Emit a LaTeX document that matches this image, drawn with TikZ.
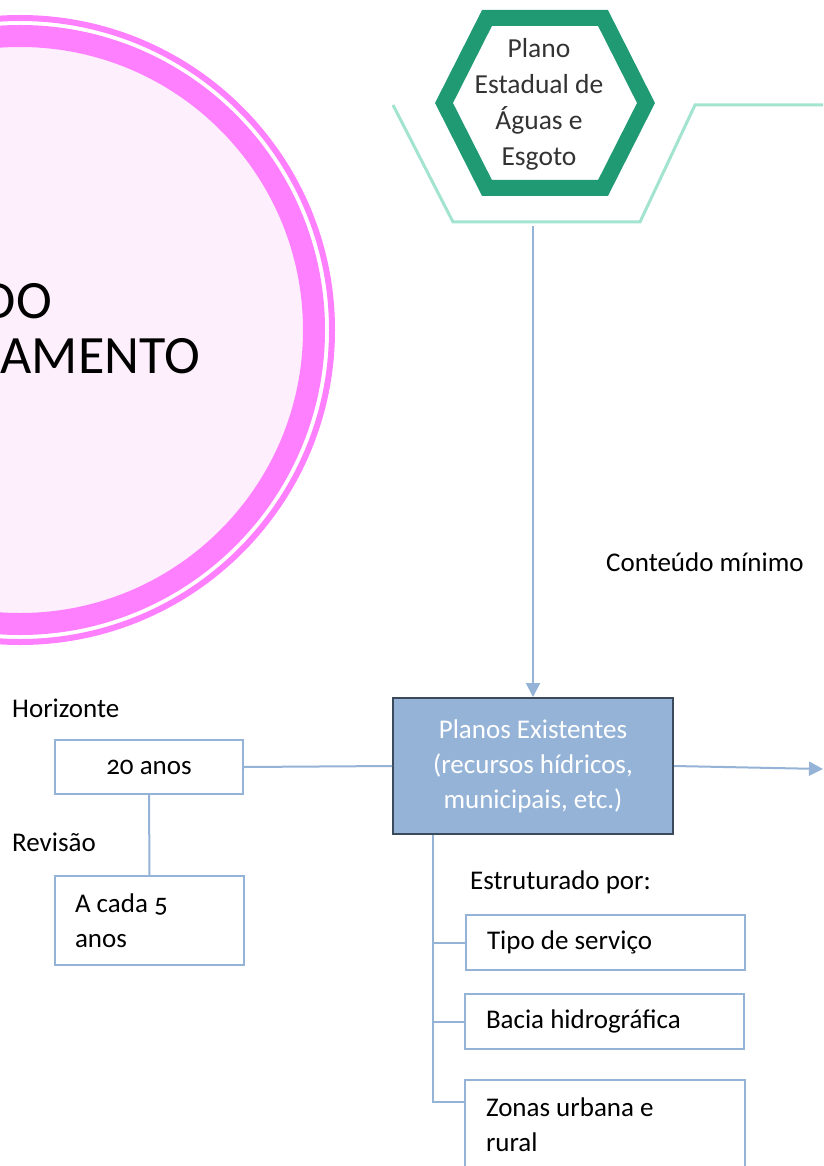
\documentclass[tikz,border=0pt]{standalone}
\usepackage{fontspec}
\setmainfont[Numbers=OldStyle]{Carlito}
\usetikzlibrary{arrows.meta}
\definecolor{pinkring}{HTML}{FF80FF}
\definecolor{pinkfill}{HTML}{FDF0FC}
\definecolor{hexgreen}{HTML}{1F9A72}
\definecolor{mint}{HTML}{A3E4D0}
\definecolor{lblue}{HTML}{95B3D7}
\definecolor{boxedge}{HTML}{3A4A5B}
\begin{document}
\begin{tikzpicture}[x=1pt,y=-1pt,
 conn/.style={draw=lblue,line width=2pt},
 arr/.style={conn,-{Triangle[length=14pt,width=14pt]}},
 txt/.style={font=\fontsize{27}{35}\selectfont},
 wbox/.style={txt,draw=lblue,line width=2pt,fill=white,inner sep=0pt},
 lbl/.style={txt,anchor=west,inner sep=0pt,text=black}
]
\useasboundingbox (0,0) rectangle (823,1166);
\fill[white] (0,0) rectangle (823,1166);
% circle
\fill[pinkfill] (20,330) circle[radius=300];
\draw[pinkring,line width=22pt] (20,330) circle[radius=294];
\draw[pinkring,line width=6pt] (20,330) circle[radius=312];
\node[font=\fontsize{54}{54}\selectfont,anchor=base east,inner sep=0pt] (t1) at (52,318) {DO};
\node[font=\fontsize{54}{54}\selectfont,anchor=base east,inner sep=0pt] (t2) at (200,373) {AMENTO};
% mint bracket
\draw[mint,line width=3pt] (393,105) -- (453,222) -- (640,222) -- (695,105) -- (823,105);
\coordinate (brk) at (533,226);
% hexagon
\draw[hexgreen,line width=16pt,line join=miter,fill=white] (444,103) -- (487,18) -- (603,18) -- (646,103) -- (603,188) -- (487,188) -- cycle;
\node[txt,font=\fontsize{27.5}{36}\selectfont,align=center,text=black!80,inner sep=0pt] (hex) at (539,104) {Plano\\Estadual de\\Águas e\\Esgoto};
% main box
\node[txt,fill=lblue,draw=boxedge,line width=2pt,minimum width=280pt,minimum height=136pt,align=center,text=white,inner sep=0pt] (pe) at (533,766) {Planos Existentes\\(recursos hídricos,\\municipais, etc.)};
\draw[arr] (brk) -- (pe.north);
\coordinate (rt) at (823,769);
\draw[arr] (pe.east) -- (rt);
\node[lbl] (cm) at (606,562) {Conteúdo mínimo};
% left side
\node[wbox,minimum width=188pt,minimum height=54pt] (a20) at (149,767) {20 anos};
\node[wbox,text width=149pt,inner xsep=20pt,minimum height=89pt,align=flush left] (a5) at (149.5,920.5) {A cada 5\\anos};
\draw[conn] (pe.west) -- (a20.east);
\draw[conn] (a20.south) -- (a5.north);
\node[lbl] (hz) at (12,708) {Horizonte};
\node[lbl] (rv) at (12,842) {Revisão};
% tree
\node[lbl] (ep) at (470,882) {Estruturado por:};
\node[wbox,text width=237pt,inner xsep=21pt,minimum height=55pt,align=flush left] (tipo) at (605.5,942.5) {Tipo de serviço};
\node[wbox,text width=237pt,inner xsep=21pt,minimum height=55pt,align=flush left] (bacia) at (604.5,1021.5) {Bacia hidrográfica};
\node[wbox,text width=238pt,inner xsep=21pt,minimum height=90pt,align=flush left] (zonas) at (605,1125) {Zonas urbana e\\rural};
\coordinate (t0) at ([xshift=41pt]pe.south west);
\draw[conn] (t0) |- (tipo.west);
\draw[conn] (t0) |- (bacia.west);
\draw[conn] (t0) |- ([yshift=-23pt]zonas.north west);
\end{tikzpicture}
\end{document}
